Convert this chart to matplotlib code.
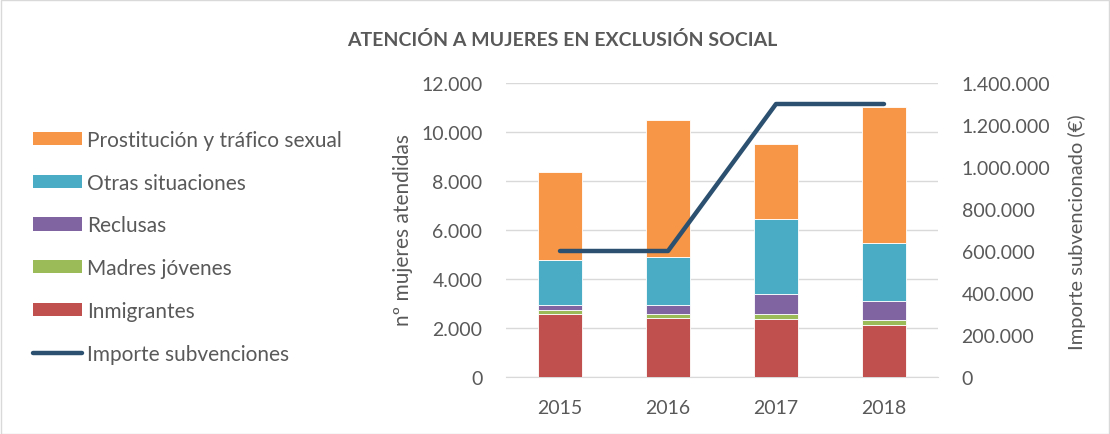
import matplotlib
matplotlib.use("Agg")
import matplotlib.pyplot as plt
from matplotlib.patches import Patch, Rectangle
from matplotlib.lines import Line2D
from matplotlib.ticker import FuncFormatter
import numpy as np

plt.rcParams['font.family'] = ['Lato', 'DejaVu Sans']

years = ["2015", "2016", "2017", "2018"]
inmigrantes = [2590, 2420, 2380, 2110]
madres_jovenes = [150, 150, 190, 230]
reclusas = [190, 350, 800, 750]
otras = [1830, 1990, 3070, 2380]
prostitucion = [3620, 5580, 3080, 5560]
subvenciones = [600000, 600000, 1300000, 1300000]

series = [
    ("Inmigrantes", inmigrantes, "#C0504D"),
    ("Madres jóvenes", madres_jovenes, "#9BBB59"),
    ("Reclusas", reclusas, "#8064A2"),
    ("Otras situaciones", otras, "#4BACC6"),
    ("Prostitución y tráfico sexual", prostitucion, "#F79646"),
]
line_color = "#2C5170"
txt = "#595959"
tick_fs = 14

W, H = 1110, 435
fig = plt.figure(figsize=(W / 100, H / 100), dpi=100)
fig.patches.append(Rectangle((0.5 / W, 0.5 / H), 1 - 1.5 / W, 1 - 1.5 / H, transform=fig.transFigure,
                             fill=False, edgecolor="#D9D9D9", linewidth=1))

ax = fig.add_axes([506 / W, (H - 378) / H, 432 / W, 294 / H])
x = np.arange(len(years))
bottom = np.zeros(len(years))
handles = {}
for name, vals, col in series:
    ax.bar(x, vals, 0.4, bottom=bottom, color=col, edgecolor="white", linewidth=0.6, zorder=3)
    bottom += np.array(vals)
    handles[name] = Patch(facecolor=col, edgecolor="none")

ax.set_ylim(0, 12000)
ax.set_yticks(np.arange(0, 12001, 2000))
ax.set_xlim(-0.5, 3.5)
ax.set_xticks(x)
ax.set_xticklabels(years)
fmt = FuncFormatter(lambda v, p: f"{int(v):,}".replace(",", "."))
ax.yaxis.set_major_formatter(fmt)
ax.grid(axis="y", color="#D9D9D9", linewidth=1, zorder=0)
for s in ["top", "right", "left"]:
    ax.spines[s].set_visible(False)
ax.spines["bottom"].set_color("#D9D9D9")
ax.tick_params(axis="y", length=0, labelsize=tick_fs, colors=txt, pad=17)
ax.tick_params(axis="x", length=0, labelsize=tick_fs, colors=txt, pad=16)

ax2 = ax.twinx()
ax2.plot(x, subvenciones, color=line_color, linewidth=3.2, solid_capstyle="round", solid_joinstyle="round", zorder=5)
ax2.set_ylim(0, 1400000)
ax2.set_yticks(np.arange(0, 1400001, 200000))
ax2.yaxis.set_major_formatter(fmt)
for s in ["top", "right", "left", "bottom"]:
    ax2.spines[s].set_visible(False)
ax2.tick_params(axis="both", length=0, labelsize=tick_fs, colors=txt, pad=17)

fig.text(403 / W, 1 - 230 / H, "nº mujeres atendidas", rotation=90, ha="center", va="center",
         fontsize=15, color=txt)
fig.text(1077 / W, 1 - 232 / H, "Importe subvencionado (€)", rotation=90, ha="center", va="center",
         fontsize=14.5, color=txt)

fig.text(562 / W, 1 - 40 / H, "ATENCIÓN A MUJERES EN EXCLUSIÓN SOCIAL", ha="center", va="center",
         fontsize=14, fontweight="bold", color=txt)

order = ["Prostitución y tráfico sexual", "Otras situaciones", "Reclusas", "Madres jóvenes", "Inmigrantes"]
hl = [handles[n] for n in order] + [Line2D([0], [0], color=line_color, linewidth=3.2, solid_capstyle="round")]
labels = order + ["Importe subvenciones"]
fig.legend(hl, labels, loc="upper left", bbox_to_anchor=(33 / W, 1 - 131 / H), frameon=False,
           fontsize=15, labelcolor=txt, handlelength=2.35, handleheight=0.61, handletextpad=0.25,
           labelspacing=1.09, borderpad=0, borderaxespad=0)

fig.savefig("out.png", dpi=100)
